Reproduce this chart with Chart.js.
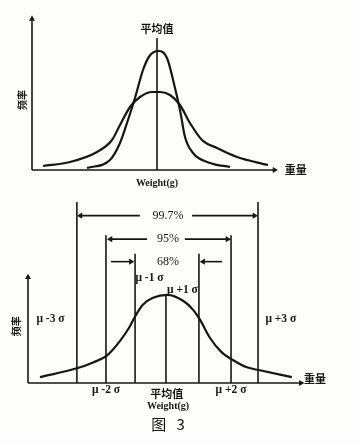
<!DOCTYPE html>
<html><head><meta charset="utf-8">
<script src="https://cdn.jsdelivr.net/npm/chart.js@4.4.1/dist/chart.umd.min.js"></script>
<style>
html,body{margin:0;padding:0;background:#fff;}
#wrap{position:relative;width:360px;height:445px;overflow:hidden;background:#fdfdfb;}
canvas{position:absolute;left:0;}
#c1{top:0;}
#c2{top:195px;}
</style></head>
<body><div id="wrap"><canvas id="c1" width="360" height="195"></canvas><canvas id="c2" width="360" height="250"></canvas></div>
<script>
// ---- Top chart data (x in arbitrary weight units, mean = 0) ----
const narrowX = [-2.8,-1.88,-1.48,-1.2,-0.88,-0.56,-0.3,0.05,0.4,0.72,0.92,1.12,1.44,2.12,2.92];
const narrowY = [2,10,27,47,72,100,114,119,112,82,60,33,17,7,3];
const wideX = [-4.56,-3.48,-2.4,-1.8,-1.48,-1.08,-0.68,-0.2,0.12,0.52,0.92,1.32,1.8,2.4,3.2,4.44];
const wideY = [4,8,18,30,45,63,73,78,78,75,65,47,30,22,13,5];
const topMeanTop = 132;

// ---- Bottom chart data (x in sigma units) ----
const bellX = [-4.2,-2.97,-2.43,-1.97,-1.53,-1.2,-1.03,-0.77,-0.43,0.05,0.57,0.9,1.13,1.47,1.87,2.2,2.7,3.13,4.2];
const bellY = [6,15,21,28,43,58,68,80,87,90,84,75,65,46,31,24,16,13,6];
const sigmaLineX = [-2.97,-2,-1.03,0,1.1,2.17,3.07];
const sigmaLineTop = [185,151,132,91,132,151,185];
// interval arrows: [fromX, tipX, rowY]
const arrowFrom = [-0.87,0.87,-0.63,0.63,-1.83,1.87];
const arrowTip  = [-2.85,2.95,-1.85,2.05,-1.17,1.24];
const arrowRow  = [171,171,147,147,124,124];
const pctLabels = ['99.7%','95%','68%'];
const pctRows = [171,147,124];
const sigmaLabels = ['μ -3 σ','μ -2 σ','μ -1 σ','μ +1 σ','μ +2 σ','μ +3 σ'];
const sigmaLabelX = [-3.85,-2.0,-0.55,0.55,2.17,3.83];
const sigmaLabelY = [65,-7,107,95,-7,65];

const INK = '#161616';
const textPlugin = {
  id:'textLabels',
  afterDatasetsDraw(chart, args, opts){
    const {ctx, scales:{x, y}} = chart;
    ctx.save();
    ctx.fillStyle = INK;
    ctx.textAlign = 'center';
    ctx.textBaseline = 'middle';
    (opts.items || []).forEach(it => {
      ctx.font = it.f;
      const px = x.getPixelForValue(it.x), py = y.getPixelForValue(it.y);
      if (it.r) { ctx.save(); ctx.translate(px, py); ctx.rotate(it.r * Math.PI / 180); ctx.fillText(it.t, 0, 0); ctx.restore(); }
      else ctx.fillText(it.t, px, py);
    });
    ctx.restore();
  }
};

const CJK = '"Noto Sans CJK SC"';
const SERIF = '"Liberation Serif","DejaVu Serif",serif';

function pts(xs, ys){ return xs.map((v,i)=>({x:v, y:ys[i]})); }
function seg(x1,y1,x2,y2, tipRot, startRot){
  return {
    data:[{x:x1,y:y1},{x:x2,y:y2}], borderColor:INK, backgroundColor:INK, borderWidth:1.6,
    pointRadius:[startRot===undefined?0:3.5, tipRot===undefined?0:3.5],
    pointStyle:'triangle', pointRotation:[startRot||0, tipRot||0],
    pointBorderWidth:0, showLine:true, clip:false, tension:0
  };
}
function curve(xs, ys){
  return { data:pts(xs,ys), borderColor:INK, borderWidth:2.2, pointRadius:0, showLine:true, cubicInterpolationMode:'monotone', clip:false };
}
function baseOpts(xmin,xmax,ymin,ymax,pad,items){
  return {
    responsive:false, animation:false, events:[],
    layout:{padding:pad},
    scales:{ x:{type:'linear', min:xmin, max:xmax, display:false}, y:{type:'linear', min:ymin, max:ymax, display:false} },
    plugins:{ legend:{display:false}, tooltip:{enabled:false}, textLabels:{items} }
  };
}

// ---- Top chart ----
const topItems = [
  {t:'平均值', x:0, y:141, f:'bold 11px '+CJK},
  {t:'频率', x:-5.4, y:70, r:-90, f:'bold 10px '+CJK},
  {t:'重量', x:5.55, y:0, f:'bold 11px '+CJK},
  {t:'Weight(g)', x:0, y:-13, f:'bold 10px '+SERIF}
];
new Chart(document.getElementById('c1'), {
  type:'scatter',
  data:{ datasets:[
    curve(narrowX, narrowY),
    curve(wideX, wideY),
    seg(0,0,0,topMeanTop),
    seg(-5,0,-5,151,0),
    seg(-5,0,4.7,0,90)
  ]},
  options: baseOpts(-5,4.8,0,155,{left:32,right:83,top:15,bottom:25}, topItems),
  plugins:[textPlugin]
});

// ---- Bottom chart ----
const botItems = [];
pctLabels.forEach((t,i)=>botItems.push({t, x:0.07, y:pctRows[i], f:'12px '+SERIF}));
sigmaLabels.forEach((t,i)=>botItems.push({t, x:sigmaLabelX[i], y:sigmaLabelY[i], f:'bold 11.5px '+SERIF}));
botItems.push({t:'平均值', x:0.03, y:-11, f:'bold 11px '+CJK});
botItems.push({t:'Weight(g)', x:0.07, y:-24, f:'bold 10px '+SERIF});
botItems.push({t:'图   3', x:0.07, y:-42, f:'15px '+CJK});
botItems.push({t:'频率', x:-5.0, y:58, r:-90, f:'bold 10px '+CJK});
botItems.push({t:'重量', x:4.97, y:4, f:'bold 11px '+CJK});

const botSets = [curve(bellX, bellY)];
sigmaLineX.forEach((lx,i)=>botSets.push(seg(lx,0,lx,sigmaLineTop[i])));
arrowFrom.forEach((fx,i)=>botSets.push(seg(fx,arrowRow[i],arrowTip[i],arrowRow[i], arrowTip[i]>fx?90:-90)));
botSets.push(seg(-4.6,0,-4.6,108,0));
botSets.push(seg(-4.6,0,4.5,0,90));
new Chart(document.getElementById('c2'), {
  type:'scatter',
  data:{ datasets: botSets },
  options: baseOpts(-4.6,4.57,0,188,{left:28,right:57,top:0,bottom:62}, botItems),
  plugins:[textPlugin]
});
</script></body></html>
